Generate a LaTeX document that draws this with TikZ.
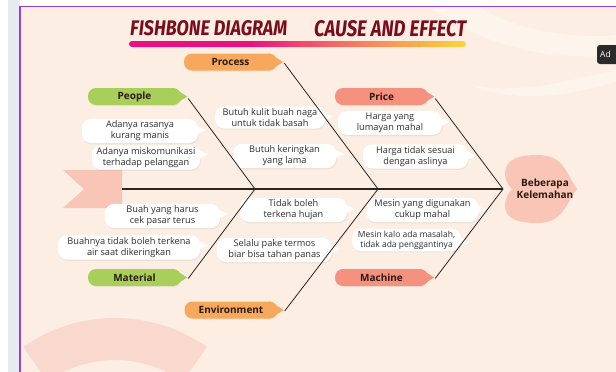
\documentclass[tikz,border=0pt]{standalone}
\usepackage{fontspec}
\usepackage{graphicx}
\setmainfont{Open Sans}
\newfontfamily\titlefont{Fira Sans}
\usetikzlibrary{shadows,calc}

\definecolor{bgc}{HTML}{FCEEE3}
\definecolor{bglight}{HTML}{FDF4EC}
\definecolor{stripc}{HTML}{E8EAF2}
\definecolor{purpc}{HTML}{9B3FD0}
\definecolor{cgreen}{HTML}{A9CF5B}
\definecolor{corange}{HTML}{F6A85D}
\definecolor{csalmon}{HTML}{F5917F}
\definecolor{cpink}{HTML}{F9C5B6}
\definecolor{arcc}{HTML}{F9D8CD}
\definecolor{titlec}{HTML}{7A0C1C}
\definecolor{txtc}{HTML}{2E2E2E}
\definecolor{lblc}{HTML}{2A1A10}
\definecolor{linec}{HTML}{2B2520}
\definecolor{barA}{HTML}{E8117F}
\definecolor{barB}{HTML}{F14B6E}
\definecolor{barC}{HTML}{F6955A}
\definecolor{barD}{HTML}{F8D63A}
\definecolor{adc}{HTML}{2A2A2A}

\pgfdeclarehorizontalshading{titlebar}{100bp}{color(0bp)=(barA); color(25bp)=(barA); color(43bp)=(barA); color(51bp)=(barB); color(63bp)=(barC); color(75bp)=(barD); color(100bp)=(barD)}

\tikzset{
  cbox/.style={fill=white, rounded corners=9pt, inner xsep=3pt, inner ysep=2pt,
    minimum height=22pt, align=center, font=\fontsize{9.2}{11}\selectfont, text=txtc,
    drop shadow={opacity=0.12, shadow xshift=0.6pt, shadow yshift=-1.2pt}},
  pill/.style={rounded corners=8pt, minimum width=93pt, minimum height=17pt,
    inner sep=0pt, font=\fontsize{10}{12}\selectfont\bfseries, text=lblc},
  bone/.style={draw=linec, line width=0.8pt},
  spine/.style={draw=linec, line width=1.2pt},
}

% name, position, text, tail offset, width
\newcommand\mkcallout[5]{%
  \node[cbox, minimum width=#5pt] (#1) at (#2) {#3};
  \fill[white] ($(#1.east)+(-2,#4-4.5)$) -- ($(#1.east)+(8,#4)$) -- ($(#1.east)+(-2,#4+4.5)$) -- cycle;
}
\newcommand\mkpill[4]{%
  \node[pill, fill=#3, drop shadow={opacity=0.10, shadow xshift=0.6pt, shadow yshift=-1pt}] (#1) at (#2) {#4};
  \fill[#3] ($(#1.north east)+(-8,0)$) -- ($(#1.east)+(6,0)$) -- ($(#1.south east)+(-8,0)$) -- cycle;
}

\begin{document}
\begin{tikzpicture}[x=1pt,y=-1pt]
\useasboundingbox (0,0) rectangle (616,372);
\begin{scope}
\clip (0,0) rectangle (616,372);
% screen background
\fill[white] (0,0) rectangle (616,372);
\fill[stripc] (8,0) rectangle (20,372);
\fill[bgc] (20,7) rectangle (616,372);
% faint decorations
\fill[bglight] (430,7) .. controls (480,45) and (550,62) .. (616,55) -- (616,35) .. controls (560,40) and (505,25) .. (480,7) -- cycle;
\fill[bglight] (470,85) .. controls (520,95) and (570,80) .. (616,70) -- (616,82) .. controls (570,95) and (520,105) .. (470,85) -- cycle;
\fill[arcc] ($(115,478)+(235:160)$) arc[start angle=235,end angle=305,radius=160]
  -- ($(115,478)+(305:118)$) arc[start angle=305,end angle=235,radius=118] -- cycle;
% frame line
\draw[purpc, line width=1.4pt] (20,372) -- (20,6.5) -- (616,6.5);

% "Ad" tooltip
\fill[adc, rounded corners=3pt] (597,45) rectangle (640,64);
\node[anchor=west, text=white, font=\fontsize{8.5}{10}\selectfont, inner sep=0pt] (adtip) at (600,54.5) {Ad};

% title
\node[anchor=base west, inner sep=0pt, text=titlec] (t1) at (130,35)
  {\resizebox{157pt}{15pt}{\titlefont\bfseries\itshape FISHBONE DIAGRAM}};
\node[anchor=base west, inner sep=0pt, text=titlec] (t2) at (314,36)
  {\resizebox{152pt}{16pt}{\titlefont\bfseries\itshape CAUSE AND EFFECT}};
\shade[shading=titlebar, rounded corners=3pt] (129,41) rectangle (466,47);

% tail ribbon
\fill[cpink] (63,170) -- (122,170) -- (122,208) -- (63,208) -- (84,189) -- cycle;

% heart (effect)
\fill[cpink] (577,189) .. controls (565,172) and (564,155) .. (537,155)
  .. controls (512,155) and (505,163) .. (505,174)
  .. controls (505,181) and (509,186) .. (512,189)
  .. controls (509,192) and (505,198) .. (505,205)
  .. controls (505,217) and (514,223) .. (537,223)
  .. controls (562,223) and (565,206) .. (577,189) -- cycle;
\node[font=\fontsize{10}{12}\selectfont\bfseries, text=lblc, align=center, inner sep=0pt] (effect) at (545,188.5) {Beberapa\\Kelemahan};

% category labels
\mkpill{process}{230.5,62}{corange}{Process}
\mkpill{people}{134.5,96.5}{cgreen}{People}
\mkpill{price}{381.5,96.5}{csalmon}{Price}
\mkpill{material}{134.5,277.5}{cgreen}{Material}
\mkpill{environment}{231,310}{corange}{Environment}
\mkpill{machine}{381.5,277.5}{csalmon}{Machine}

% cause callouts
\mkcallout{cb1}{270,117.5}{Butuh kulit buah naga\\untuk tidak basah}{-1}{110}
\mkcallout{cb2}{140,131}{Adanya rasanya\\kurang manis}{-1}{116}
\mkcallout{cb3}{146,157.5}{Adanya miskomunikasi\\terhadap pelanggan}{-3}{108}
\mkcallout{cb4}{284.5,156}{Butuh keringkan\\yang lama}{-2}{103}
\mkcallout{cb5}{390,123}{Harga yang\\lumayan mahal}{-1}{104}
\mkcallout{cb6}{415.5,156.5}{Harga tidak sesuai\\dengan aslinya}{-1}{105}
\mkcallout{cb7}{162.5,216}{Buah yang harus\\cek pasar terus}{-2}{115}
\mkcallout{cb8}{293.5,210}{Tidak boleh\\terkena hujan}{-1}{107}
\mkcallout{cb9}{129,247.5}{Buahnya tidak boleh terkena\\air saat dikeringkan}{-2}{142}
\mkcallout{cb10}{274.5,250}{Selalu pake termos\\biar bisa tahan panas}{-1}{115}
\mkcallout{cb11}{422.5,210}{Mesin yang digunakan\\cukup mahal}{-1}{112}
\node[cbox, minimum width=109pt, minimum height=20pt, font=\fontsize{8.5}{10}\selectfont] (cb12) at (406.5,240) {Mesin kalo ada masalah,\\tidak ada penggantinya};
\fill[white] ($(cb12.east)+(-2,-2.5)$) -- ($(cb12.east)+(8,2)$) -- ($(cb12.east)+(-2,6.5)$) -- cycle;

% skeleton
\coordinate (tailend) at (122,189);
\coordinate (j1) at (255,189);
\coordinate (j2) at (378,189);
\coordinate (j3) at (503,189);
\draw[spine] (tailend) -- (j3);
\draw[bone] ($(people.east)+(7,2)$) -- (j1);
\draw[bone] ($(material.east)+(7,1)$) -- (j1);
\draw[bone] ($(process.east)+(7,1)$) -- (j2);
\draw[bone] ($(environment.east)+(7,1)$) -- (j2);
\draw[bone] ($(price.east)+(7,2)$) -- (j3);
\draw[bone] ($(machine.east)+(7,1)$) -- (j3);
\end{scope}
\end{tikzpicture}
\end{document}
